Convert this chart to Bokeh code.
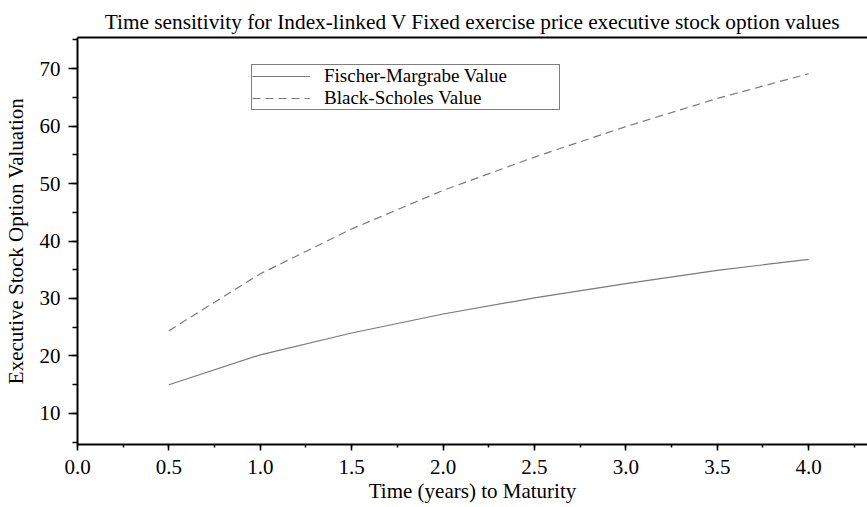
from bokeh.plotting import figure
from bokeh.models import (ColumnDataSource, Legend, LegendItem, LinearAxis,
                          SingleIntervalTicker, FixedTicker, Range1d,
                          NumeralTickFormatter)
from bokeh.embed import file_html
from bokeh.resources import INLINE

# ---- data ----
maturity = [0.5, 1.0, 1.5, 2.0, 2.5, 3.0, 3.5, 4.0]
fischer_margrabe = [15.0, 20.2, 24.0, 27.3, 30.1, 32.6, 34.9, 36.8]
black_scholes = [24.4, 34.3, 42.1, 48.8, 54.6, 59.9, 64.8, 69.1]

title_text = "Time sensitivity for Index-linked V Fixed exercise price executive stock option values"
x_label = "Time (years) to Maturity"
y_label = "Executive Stock Option Valuation"
series_names = ["Fischer-Margrabe Value", "Black-Scholes Value"]

FONT = "Liberation Serif"

src = ColumnDataSource(dict(x=maturity, fm=fischer_margrabe, bs=black_scholes))

p = figure(width=867, height=507, output_backend="svg", toolbar_location=None,
           x_range=Range1d(0, 4.322), y_range=Range1d(4.6, 75.4),
           min_border_left=76, min_border_right=0, min_border_top=37,
           min_border_bottom=63, x_axis_type=None, y_axis_type=None)
p.outline_line_color = None
p.xgrid.visible = False
p.ygrid.visible = False
p.background_fill_color = "white"
p.border_fill_color = "white"

# title
p.title.text = title_text
p.title.text_font = FONT
p.title.text_font_size = "21.3px"
p.title.text_font_style = "normal"
p.title.text_color = "black"
p.title.align = "center"
p.title.vertical_align = "top"
p.title.standoff = 4

# axes
xaxis = LinearAxis(ticker=SingleIntervalTicker(interval=0.5, num_minor_ticks=2))
yaxis = LinearAxis(ticker=SingleIntervalTicker(interval=10, num_minor_ticks=2))
for ax in (xaxis, yaxis):
    ax.axis_line_width = 2
    ax.axis_line_color = "black"
    ax.major_tick_line_color = "black"
    ax.minor_tick_line_color = "black"
    ax.major_tick_line_width = 1.5
    ax.minor_tick_line_width = 1.5
    ax.major_tick_in = 0
    ax.minor_tick_in = 0
    ax.major_label_text_font = FONT
    ax.major_label_text_font_size = "21px"
    ax.major_label_text_color = "black"
    ax.axis_label_text_font = FONT
    ax.axis_label_text_font_size = "21px"
    ax.axis_label_text_font_style = "normal"
    ax.axis_label_text_color = "black"

xaxis.axis_label = x_label
xaxis.major_tick_out = 6
xaxis.minor_tick_out = 3
xaxis.major_label_standoff = 9
xaxis.axis_label_standoff = 2
xaxis.formatter = NumeralTickFormatter(format="0.0")

yaxis.axis_label = y_label
yaxis.major_tick_out = 9
yaxis.minor_tick_out = 5
yaxis.major_label_standoff = 8
yaxis.axis_label_standoff = 9

p.add_layout(xaxis, "below")
p.add_layout(yaxis, "left")

top = LinearAxis(ticker=FixedTicker(ticks=[]), major_label_text_font_size="0px",
                 axis_line_width=2, axis_line_color="black",
                 major_tick_out=0, minor_tick_out=0, major_tick_in=0, minor_tick_in=0)
p.add_layout(top, "above")

# lines
r_fm = p.line("x", "fm", source=src, line_color="#7a7a7a", line_width=1.2)
r_bs = p.line("x", "bs", source=src, line_color="#7a7a7a", line_width=1.2,
              line_dash="8 5")

legend = Legend(items=[LegendItem(label=series_names[0], renderers=[r_fm]),
                       LegendItem(label=series_names[1], renderers=[r_bs])],
                location=(174, 334), orientation="vertical")
legend.label_text_font = FONT
legend.label_text_font_size = "19px"
legend.label_text_color = "black"
legend.label_height = 18
legend.glyph_height = 18
legend.glyph_width = 58
legend.label_standoff = 14
legend.label_width = 235
legend.spacing = 0
legend.padding = 0
legend.margin = 0
legend.border_line_color = "black"
legend.border_line_width = 1.5
legend.background_fill_alpha = 1
p.add_layout(legend, "center")

open("out.html", "w").write(file_html(p, INLINE))
